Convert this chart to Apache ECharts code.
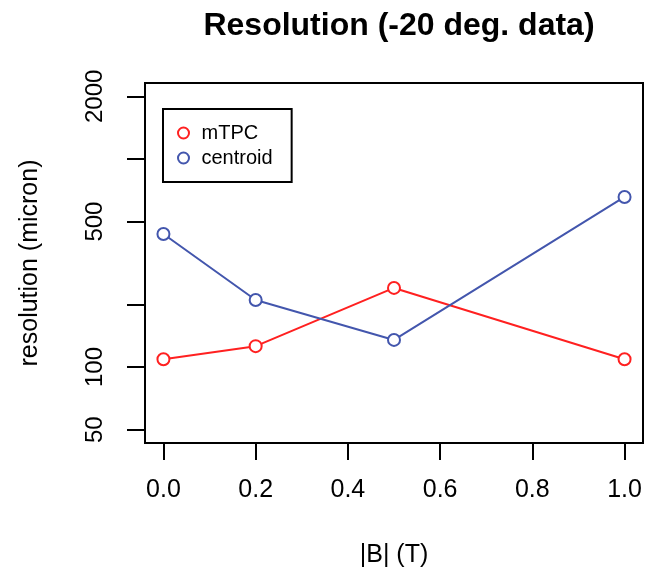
<!DOCTYPE html>
<html>
<head>
<meta charset="utf-8">
<script src="https://cdn.jsdelivr.net/npm/echarts@6/dist/echarts.min.js"></script>
<style>html,body{margin:0;padding:0;background:#fff;}#c{width:646px;height:568px;}</style>
</head>
<body>
<div id="c"></div>
<script>
const fieldB = [0.0, 0.2, 0.5, 1.0];
const mTPC = [109, 126, 240, 109];
const centroid = [436, 210, 135, 657];
const xTicks = [0.0, 0.2, 0.4, 0.6, 0.8, 1.0];
const yTicks = [50, 100, 200, 500, 1000, 2000];
const yLabels = [50, 100, 500, 2000];

const L = v => Math.log10(v);
const yLo = L(50), yHi = L(2000), pad = (yHi - yLo) * 0.04;
const font = 'Liberation Sans, Arial, sans-serif';

const chart = echarts.init(document.getElementById('c'), null, {renderer: 'canvas'});
chart.setOption({
  animation: false,
  backgroundColor: '#fff',
  title: {
    text: 'Resolution (-20 deg. data)',
    left: 394, top: 5, textAlign: 'center',
    textStyle: {fontFamily: font, fontWeight: 'bold', fontSize: 32, color: '#000'}
  },
  legend: {
    left: 163, top: 109, orient: 'vertical',
    borderColor: '#000', borderWidth: 2,
    padding: [14, 19, 14, 14],
    itemWidth: 26, itemHeight: 11, itemGap: 5,
    icon: 'emptyCircle',
    textStyle: {fontFamily: font, fontSize: 20, color: '#000', lineHeight: 20},
    data: ['mTPC', 'centroid']
  },
  grid: {
    left: 145, right: 3, top: 83, bottom: 125,
    outerBoundsMode: 'none',
    show: true, borderColor: '#000', borderWidth: 2, backgroundColor: 'transparent'
  },
  xAxis: {
    type: 'value', min: -0.04, max: 1.04,
    name: '|B| (T)', nameLocation: 'middle', nameGap: 100,
    nameTextStyle: {fontFamily: font, fontSize: 25, color: '#000'},
    axisLine: {show: false, onZero: false},
    splitLine: {show: false},
    axisTick: {show: true, length: 17, customValues: xTicks, lineStyle: {color: '#000', width: 2}},
    axisLabel: {customValues: xTicks, margin: 35, fontFamily: font, fontSize: 25, color: '#000',
      formatter: v => Number(v).toFixed(1)}
  },
  yAxis: {
    type: 'value', min: yLo - pad, max: yHi + pad,
    name: 'resolution (micron)', nameLocation: 'middle', nameGap: 102,
    nameTextStyle: {fontFamily: font, fontSize: 25, color: '#000'},
    axisLine: {show: false, onZero: false},
    splitLine: {show: false},
    axisTick: {show: true, length: 18, customValues: yTicks.map(L), lineStyle: {color: '#000', width: 2}},
    axisLabel: {customValues: yLabels.map(L), rotate: 90, margin: 38, fontFamily: font, fontSize: 24, color: '#000',
      formatter: v => String(Math.round(Math.pow(10, v)))}
  },
  series: [
    {
      name: 'mTPC', type: 'line',
      data: fieldB.map((x, i) => [x, L(mTPC[i])]),
      symbol: 'emptyCircle', symbolSize: 12,
      color: '#ff2020',
      lineStyle: {width: 2, color: '#ff2020'},
      itemStyle: {color: '#ff2020', borderWidth: 2}
    },
    {
      name: 'centroid', type: 'line',
      data: fieldB.map((x, i) => [x, L(centroid[i])]),
      symbol: 'emptyCircle', symbolSize: 12,
      color: '#4356ad',
      lineStyle: {width: 2, color: '#4356ad'},
      itemStyle: {color: '#4356ad', borderWidth: 2}
    }
  ]
});
</script>
</body>
</html>
